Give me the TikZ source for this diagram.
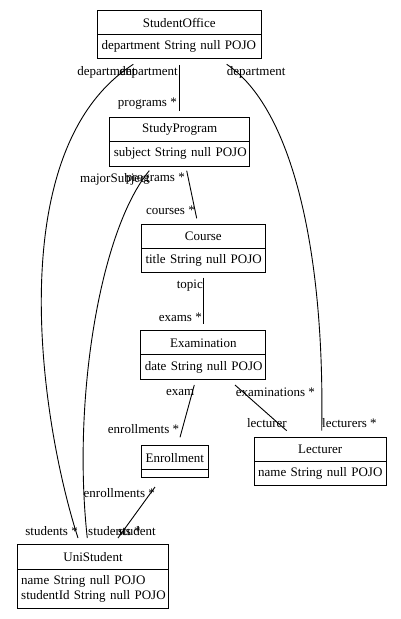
\documentclass[tikz,border=0pt]{standalone}
\usepackage{fontspec}
\setmainfont{Liberation Serif}
\begin{document}
\begin{tikzpicture}[x=1pt,y=-1pt,
  every node/.style={font=\fontsize{13}{15.5}\selectfont},
  ctitle/.style={draw, line width=1pt, anchor=north west, inner sep=0pt, align=center},
  cattr/.style={draw, line width=1pt, anchor=north west, inner xsep=4pt, inner ysep=0pt, align=left},
  lbl/.style={inner sep=0pt},
  edge/.style={draw, line width=0.9pt}]
\useasboundingbox (0,0) rectangle (401,619);
% classes
\node[ctitle, minimum width=163.5pt, minimum height=24pt] (so) at (97,10) {StudentOffice};
\node[cattr, minimum width=163.5pt, minimum height=24pt, text width=155.5pt] (soa) at (97,34) {\mbox{department String null POJO}};
\node[ctitle, minimum width=140pt, minimum height=24pt] (sp) at (109.3,116.7) {StudyProgram};
\node[cattr, minimum width=140pt, minimum height=25pt, text width=132pt] (spa) at (109.3,140.7) {\mbox{subject String null POJO}};
\node[ctitle, minimum width=123.7pt, minimum height=23.7pt] (co) at (141,224.3) {Course};
\node[cattr, minimum width=123.7pt, minimum height=24.3pt, text width=115.7pt] (coa) at (141,248) {\mbox{title String null POJO}};
\node[ctitle, minimum width=125pt, minimum height=24pt] (ex) at (140.3,330.3) {Examination};
\node[cattr, minimum width=125pt, minimum height=24.4pt, text width=117pt] (exa) at (140.3,354.3) {\mbox{date String null POJO}};
\node[ctitle, minimum width=132pt, minimum height=24pt] (le) at (253.7,437.3) {Lecturer};
\node[cattr, minimum width=132pt, minimum height=24pt, text width=124pt] (lea) at (253.7,461.3) {\mbox{name String null POJO}};
\node[ctitle, minimum width=66.7pt, minimum height=24pt] (en) at (141,445.3) {Enrollment};
\node[cattr, minimum width=66.7pt, minimum height=8pt, text width=58.7pt] (ena) at (141,469.3) {};
\node[ctitle, minimum width=151.6pt, minimum height=24.4pt] (us) at (16.7,544.3) {UniStudent};
\node[cattr, minimum width=151.6pt, minimum height=39pt, text width=143.6pt] (usa) at (16.7,568.7) {\mbox{name String null POJO}\\\mbox{studentId String null POJO}};
% connector end points
\coordinate (a1) at (179.3,65);   \coordinate (b1) at (179.3,111);
\coordinate (a2) at (133.3,64.3); \coordinate (b2) at (78,538);
\coordinate (a3) at (226.7,64.3); \coordinate (b3) at (321.7,430.7);
\coordinate (a4) at (149.3,170.7); \coordinate (b4) at (87.3,538);
\coordinate (a5) at (186.7,170.7); \coordinate (b5) at (196.7,218.3);
\coordinate (a6) at (203.3,277.7); \coordinate (b6) at (203.3,324);
\coordinate (a7) at (194.3,385);  \coordinate (b7) at (180,437.3);
\coordinate (a8) at (235,385);    \coordinate (b8) at (286.7,430.7);
\coordinate (a9) at (155,487);    \coordinate (b9) at (118,538);
% connectors
\path[edge] (a1) -- (b1);
\path[edge] (a2) .. controls (0,150) and (40,420) .. (b2);
\path[edge] (a3) .. controls (292,108) and (325,250) .. (b3);
\path[edge] (a4) .. controls (100,230) and (72,400) .. (b4);
\path[edge] (a5) -- (b5);
\path[edge] (a6) -- (b6);
\path[edge] (a7) -- (b7);
\path[edge] (a8) -- (b8);
\path[edge] (a9) -- (b9);
% labels
\node[lbl, anchor=east] (l2a) at (136,72) {department};
\node[lbl, anchor=east] (l1a) at (178,72) {department};
\node[lbl, anchor=east] (l1b) at (177,104) {programs *};
\node[lbl, anchor=west] (l3a) at (226.7,72) {department};
\node[lbl, anchor=west] (l3b) at (322,423) {lecturers *};
\node[lbl, anchor=east] (l2b) at (78,531) {students *};
\node[lbl, anchor=west] (l4a) at (80,179) {majorSubject};
\node[lbl, anchor=east] (l5a) at (185,179) {programs *};
\node[lbl, anchor=east] (l5b) at (195,210) {courses *};
\node[lbl, anchor=east] (l6a) at (203,286) {topic};
\node[lbl, anchor=east] (l6b) at (202,317) {exams *};
\node[lbl, anchor=west] (l7a) at (166,392) {exam};
\node[lbl, anchor=east] (l7b) at (179.3,429) {enrollments *};
\node[lbl, anchor=west] (l8a) at (235.7,392) {examinations *};
\node[lbl, anchor=east] (l8b) at (287,423) {lecturer};
\node[lbl, anchor=east] (l9a) at (155,493) {enrollments *};
\node[lbl, anchor=west] (l4b) at (88,531) {students *};
\node[lbl, anchor=west] (l9b) at (118,531) {student};
\end{tikzpicture}
\end{document}
